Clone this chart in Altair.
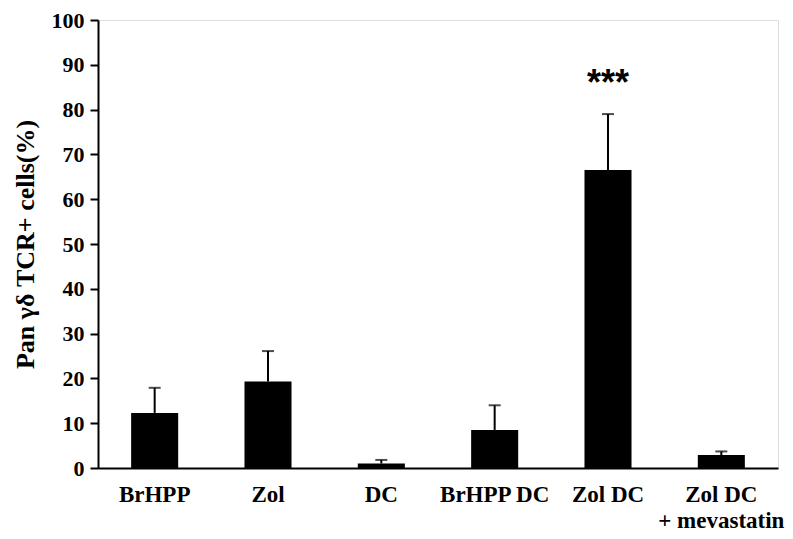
import altair as alt
import pandas as pd

categories = ["BrHPP", "Zol", "DC", "BrHPP DC", "Zol DC", "Zol DC|+ mevastatin"]
means = [12.3, 19.3, 1.0, 8.5, 66.5, 2.9]
errors = [5.6, 6.8, 0.8, 5.5, 12.5, 0.8]
star_label = "***"
star_y = 86

df = pd.DataFrame({"cat": categories, "mean": means, "err": errors})
df["top"] = df["mean"] + df["err"]

FONT = "Liberation Serif"

x = alt.X("cat:N", sort=categories, title=None,
          scale=alt.Scale(paddingInner=0.585, paddingOuter=0.2925),
          axis=alt.Axis(labelAngle=0, labelFont=FONT, labelFontSize=23,
                        labelFontWeight="bold", labelColor="black",
                        labelExpr="split(datum.value, '|')", labelLineHeight=26,
                        labelBaseline="top",
                        ticks=False, domainColor="black", domainWidth=2,
                        labelPadding=15))
y = alt.Y("mean:Q", title="Pan γδ TCR+ cells(%)",
          scale=alt.Scale(domain=[0, 100], nice=False),
          axis=alt.Axis(values=list(range(0, 101, 10)), grid=False,
                        labelFont=FONT, labelFontSize=22, labelFontWeight="bold",
                        labelColor="black", tickColor="black", tickWidth=2, tickSize=8,
                        domainColor="black", domainWidth=2, labelPadding=6,
                        titleFont=FONT, titleFontSize=26, titleFontWeight="bold",
                        titleColor="black", titlePadding=13))

base = alt.Chart(df)
bars = base.mark_bar(color="black").encode(x=x, y=y)
rules = base.mark_rule(color="black", strokeWidth=2).encode(
    x=alt.X("cat:N", sort=categories), y="mean:Q", y2="top:Q")
caps = base.mark_tick(color="black", orient="horizontal", size=12, thickness=2).encode(
    x=alt.X("cat:N", sort=categories), y="top:Q")
stars = alt.Chart(pd.DataFrame({"cat": ["Zol DC"], "y": [star_y], "t": [star_label]})).mark_text(
    font="Liberation Sans", fontSize=36, fontWeight="bold",
    color="black", baseline="middle", dy=1
).encode(x=alt.X("cat:N", sort=categories), y="y:Q", text="t:N")

chart = (bars + rules + caps + stars).properties(
    width=680, height=448,
    autosize=alt.AutoSizeParams(type="none"),
    padding={"left": 90, "top": 12, "right": 7, "bottom": 63},
).configure_view(stroke=None).configure(background="white")

chart.save("out.html", embed_options={"renderer": "svg", "actions": False})
